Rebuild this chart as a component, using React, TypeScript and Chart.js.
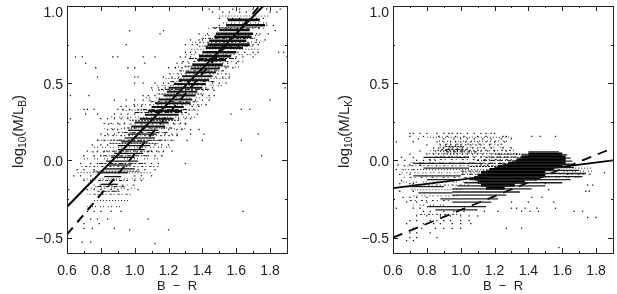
import React, { useEffect, useRef } from "react";
import { Chart, registerables } from "chart.js";

Chart.register(...registerables);

const xRange = [0.6, 1.9];
const yRange = [-0.6, 1.0];
const xMinorTicks = [0.7, 0.9, 1.1, 1.3, 1.5, 1.7, 1.9];
const yMinorTicks = [-0.25, 0.25, 0.75];

// Streaks of data: [y, xStart, xEnd]
const leftStreaks = [
  [0.91, 1.55, 1.74], [0.875, 1.54, 1.77], [0.845, 1.5, 1.68], [0.82, 1.48, 1.7], [0.8, 1.47, 1.69],
  [0.775, 1.44, 1.66], [0.75, 1.43, 1.68], [0.73, 1.42, 1.64], [0.7, 1.4, 1.6], [0.675, 1.38, 1.57],
  [0.65, 1.37, 1.54], [0.62, 1.34, 1.52], [0.595, 1.33, 1.5], [0.57, 1.3, 1.48], [0.545, 1.28, 1.46],
  [0.52, 1.26, 1.44], [0.495, 1.23, 1.42], [0.47, 1.2, 1.4], [0.445, 1.19, 1.37], [0.42, 1.17, 1.36],
  [0.395, 1.14, 1.34], [0.37, 1.12, 1.33], [0.345, 1.1, 1.29], [0.32, 1.08, 1.28], [0.295, 1.06, 1.26],
  [0.27, 1.03, 1.23], [0.245, 1.0, 1.2], [0.22, 0.98, 1.18], [0.195, 0.96, 1.14], [0.17, 0.96, 1.13],
  [0.145, 0.94, 1.12], [0.12, 0.92, 1.08], [0.095, 0.9, 1.09], [0.07, 0.9, 1.06], [0.045, 0.88, 1.05],
  [0.02, 0.86, 1.0], [-0.005, 0.83, 1.02], [-0.03, 0.84, 0.98], [-0.055, 0.82, 1.0], [-0.08, 0.78, 0.96],
  [-0.105, 0.82, 0.92], [-0.155, 0.8, 0.9],
];
const leftInner = [
  [0.86, 1.46, 1.74], [0.79, 1.4, 1.72], [0.74, 1.38, 1.7], [0.66, 1.32, 1.6], [0.61, 1.29, 1.56],
  [0.58, 1.26, 1.53], [0.51, 1.21, 1.48], [0.46, 1.15, 1.44], [0.43, 1.13, 1.41], [0.38, 1.08, 1.38],
  [0.33, 1.03, 1.33], [0.31, 1.0, 1.31], [0.26, 0.97, 1.27], [0.21, 0.93, 1.22], [0.18, 0.9, 1.2],
  [0.13, 0.87, 1.16], [0.11, 0.85, 1.14], [0.06, 0.83, 1.11], [0.03, 0.81, 1.08], [-0.02, 0.79, 1.05],
  [-0.07, 0.75, 1.03], [-0.13, 0.78, 0.96], [-0.17, 0.76, 0.94], [-0.2, 0.78, 0.92],
];
const leftFringe = [
  [0.935, 1.5, 1.8], [0.89, 1.5, 1.8], [0.855, 1.42, 1.78], [0.81, 1.38, 1.76], [0.765, 1.34, 1.76],
  [0.72, 1.32, 1.74], [0.685, 1.3, 1.72], [0.64, 1.27, 1.66], [0.605, 1.24, 1.62], [0.56, 1.2, 1.58],
  [0.53, 1.17, 1.56], [0.485, 1.12, 1.52], [0.455, 1.1, 1.48], [0.405, 1.05, 1.47], [0.36, 0.98, 1.44],
  [0.325, 0.92, 1.38], [0.28, 0.86, 1.36], [0.235, 0.84, 1.32], [0.205, 0.82, 1.3], [0.16, 0.8, 1.27],
  [0.13, 0.78, 1.24], [0.085, 0.75, 1.22], [0.055, 0.72, 1.2], [0.01, 0.7, 1.16], [-0.04, 0.68, 1.14],
  [-0.08, 0.66, 1.1], [-0.12, 0.68, 1.06], [-0.16, 0.74, 1.0], [-0.18, 0.72, 1.0], [-0.22, 0.72, 0.98],
  [-0.26, 0.76, 0.96], [-0.3, 0.72, 0.92],
];
const rightCore = [
  [0.04, 1.4, 1.6], [0.02, 1.36, 1.62], [0, 1.33, 1.62], [-0.02, 1.28, 1.62], [-0.04, 1.22, 1.6],
  [-0.06, 1.17, 1.55], [-0.08, 1.12, 1.5], [-0.1, 1.1, 1.5], [-0.12, 1.08, 1.45], [-0.14, 1.1, 1.38],
  [-0.16, 1.12, 1.32], [-0.18, 1.15, 1.26],
];
const rightStreaks = [
  [0.055, 1.4, 1.58], [0.035, 1.36, 1.63], [0.015, 1.33, 1.65], [-0.005, 1.3, 1.66], [-0.025, 1.25, 1.66],
  [-0.045, 1.2, 1.67], [-0.065, 1.15, 1.7], [-0.085, 1.12, 1.74], [-0.105, 1.08, 1.72], [-0.125, 1.05, 1.65],
  [-0.145, 1.02, 1.6], [-0.165, 0.98, 1.5], [-0.185, 0.95, 1.42], [-0.205, 0.95, 1.35], [-0.225, 0.95, 1.27],
  [-0.25, 0.88, 1.22], [-0.27, 0.95, 1.18], [-0.3, 0.8, 1.15], [-0.32, 0.85, 1.1], [0.02, 0.78, 1.05],
  [-0.02, 0.72, 1.1], [-0.05, 0.78, 1.05], [-0.1, 0.72, 1.0], [-0.125, 0.8, 1.0], [-0.17, 0.68, 0.9], [-0.21, 0.75, 0.95],
];
const rightInner = [
  [0.04, 1.2, 1.42], [0.02, 1.15, 1.38], [0, 1.1, 1.34], [-0.02, 1.1, 1.3], [-0.04, 1.05, 1.25],
  [-0.07, 1.0, 1.18], [-0.09, 1.0, 1.15], [0.07, 0.88, 1.04], [0.09, 0.9, 1.02], [0.055, 0.9, 1.1],
];
const rightFringe = [
  [0.15, 0.8, 1.3], [0.125, 0.85, 1.28], [0.105, 0.86, 1.26], [0.085, 0.84, 1.3], [0.065, 0.82, 1.32],
  [0.045, 0.8, 1.35], [0.025, 0.85, 1.38], [0.005, 0.8, 1.35], [-0.015, 0.7, 1.3], [-0.035, 0.66, 1.25],
  [-0.06, 0.66, 1.2], [-0.08, 0.64, 1.14], [-0.11, 0.66, 1.1], [-0.14, 0.64, 1.1], [-0.16, 0.7, 1.05],
  [-0.19, 0.7, 1.0], [-0.23, 0.72, 0.98], [-0.26, 0.7, 0.95], [-0.29, 0.72, 0.92], [-0.35, 0.74, 1.0],
  [-0.05, 1.6, 1.78], [-0.07, 1.6, 1.8], [-0.09, 1.6, 1.78], [-0.11, 1.5, 1.72],
];

// Individual dots: [y, x values on that row]
const leftDots: [number, number[]][] = [
  [0.98, [1.44, 1.5, 1.58, 1.62, 1.7, 1.78, 1.86]],
  [0.96, [1.46, 1.52, 1.56, 1.62, 1.66, 1.72, 1.8, 1.84]],
  [0.92, [1.5, 1.55, 1.58, 1.62, 1.72, 1.76]],
  [0.875, [1.5, 1.75, 1.78, 1.82]],
  [0.84, [0.97, 1.83, 1.17]],
  [0.82, [1.38, 1.43, 1.15, 1.72, 1.74, 1.79]],
  [0.78, [1.33, 1.38, 1.4, 1.72, 1.77]],
  [0.75, [0.95, 1.3, 1.34, 1.37, 1.7, 1.73]],
  [0.7, [1.3, 1.33, 1.36, 1.61, 1.65, 1.7, 1.73, 1.85, 1.88]],
  [0.67, [0.65, 0.69, 0.87, 0.9, 1.05, 1.12, 1.27, 1.3, 1.33, 1.55, 1.6, 1.64, 1.7, 1.9]],
  [0.63, [0.71, 1.06, 1.25, 1.28, 1.32, 1.52, 1.55, 1.6]],
  [0.6, [0.77, 0.96, 1.0, 1.2, 1.24, 1.28, 1.5, 1.54, 1.58]],
  [0.54, [0.78, 1.0, 1.02, 1.17, 1.22, 1.26, 1.48, 1.52, 1.56]],
  [0.5, [1.0, 1.05, 1.12, 1.17, 1.2, 1.24, 1.46, 1.5, 1.54, 1.88]],
  [0.47, [1.1, 1.14, 1.18, 1.42, 1.46, 1.89]],
  [0.42, [0.73, 0.62, 1.05, 1.08, 1.12, 1.4, 1.44, 1.47]],
  [0.39, [0.88, 0.95, 1.0, 1.05, 1.09, 1.36, 1.4, 1.44, 1.8]],
  [0.35, [0.92, 0.95, 1.0, 1.04, 1.34, 1.38]],
  [0.33, [0.7, 0.72, 0.76, 0.9, 0.93, 0.97, 1.02, 1.3, 1.35, 1.68, 1.63]],
  [0.3, [0.71, 0.78, 0.88, 0.92, 0.96, 1.0, 1.28, 1.32, 1.37, 1.57]],
  [0.27, [0.62, 0.8, 0.84, 0.88, 0.92, 0.96, 1.26, 1.3, 1.33]],
  [0.24, [0.82, 0.86, 0.9, 0.94, 1.23, 1.27, 1.3]],
  [0.2, [0.84, 0.87, 0.9, 1.2, 1.25, 1.28, 1.33, 1.38]],
  [0.17, [0.8, 0.84, 0.88, 1.18, 1.22, 1.25, 1.33, 1.41, 1.73]],
  [0.13, [0.78, 0.82, 0.86, 1.15, 1.18, 1.22, 1.31, 1.4, 1.63]],
  [0.1, [0.75, 0.8, 0.84, 1.12, 1.16, 1.2]],
  [0.06, [0.72, 0.78, 0.82, 1.1, 1.13, 1.17, 1.22]],
  [0.03, [0.7, 0.76, 0.8, 1.08, 1.12, 1.16, 1.75]],
  [-0.02, [0.68, 0.74, 0.78, 1.06, 1.1, 1.14, 1.3]],
  [-0.06, [0.66, 0.7, 0.76, 1.02, 1.06, 1.12]],
  [-0.1, [0.64, 0.68, 0.74, 1.0, 1.04, 1.1]],
  [-0.13, [0.7, 0.74, 1.0, 1.04]],
  [-0.19, [0.61, 0.72, 0.76, 0.8, 0.86, 0.9, 0.96, 1.02]],
  [-0.33, [0.72, 0.76, 0.8, 0.86, 0.92, 1.64]],
  [-0.38, [0.74, 0.78, 0.84, 1.08]],
  [-0.41, [0.7, 0.79]],
  [-0.44, [0.75, 0.7, 0.88]],
  [-0.45, [0.97, 1.2]],
  [-0.53, [0.69, 0.74]],
  [-0.54, [1.12]],
];
const rightDots: [number, number[]][] = [
  [0.175, [0.7, 0.72, 0.76, 0.8, 0.86, 0.9, 0.93, 0.95, 0.98, 1.0, 1.04, 1.08, 1.12, 1.15, 1.18, 1.2]],
  [0.155, [0.7, 0.78, 0.87, 0.92, 0.97, 1.02, 1.1, 1.15, 1.25, 1.27, 1.42, 1.47, 1.56]],
  [0.14, [0.75, 0.9, 0.96, 1.0, 1.04, 1.08, 1.13, 1.18, 1.24, 1.3]],
  [0.12, [0.62, 0.72, 0.86, 0.9, 0.94, 0.97, 1.0, 1.03, 1.06, 1.1, 1.15, 1.2, 1.26]],
  [0.1, [0.8, 0.88, 0.91, 0.94, 0.97, 1.0, 1.03, 1.06, 1.09, 1.12, 1.17, 1.22]],
  [0.08, [0.84, 0.87, 0.9, 0.93, 0.95, 0.98, 1.01, 1.04, 1.07, 1.1, 1.14, 1.18, 1.25, 1.3]],
  [0.06, [0.76, 0.85, 0.88, 0.9, 0.92, 0.94, 0.96, 0.98, 1.0, 1.02, 1.05, 1.08, 1.12, 1.16, 1.2, 1.27]],
  [0.04, [0.7, 0.8, 0.84, 0.87, 0.9, 0.92, 0.94, 0.96, 0.98, 1.01, 1.04, 1.07, 1.1, 1.13, 1.18, 1.23, 1.28, 1.33]],
  [0.02, [0.65, 0.72, 1.08, 1.12, 1.15, 1.18, 1.22, 1.26, 1.3]],
  [0, [0.6, 0.67, 0.74, 0.78, 0.82, 0.85, 1.1, 1.14, 1.18, 1.22]],
  [-0.03, [0.63, 0.7, 0.76, 1.12, 1.16]],
  [-0.06, [0.62, 0.66, 0.72]],
  [-0.08, [1.85]],
  [-0.09, [0.64, 0.7]],
  [-0.13, [0.6, 0.65]],
  [-0.15, [0.64, 0.7, 0.72, 1.5]],
  [-0.16, [1.75, 1.78]],
  [-0.19, [1.52]],
  [-0.2, [0.64, 0.72, 1.74, 1.76]],
  [-0.24, [0.66, 0.7, 0.74, 0.8, 1.42, 1.48]],
  [-0.27, [0.68, 0.74, 0.8, 1.3, 1.4, 1.55]],
  [-0.31, [0.62, 0.72, 0.76, 1.3, 1.33, 1.38, 1.45, 1.56]],
  [-0.33, [0.78, 0.82, 0.9, 0.96, 1.02, 1.14, 1.22, 1.36, 1.41, 1.46, 1.67, 1.72]],
  [-0.36, [0.74, 0.8, 0.88, 0.94, 1.0, 1.05, 1.1]],
  [-0.37, [1.75, 1.8]],
  [-0.39, [0.7, 0.74, 0.82, 0.86, 0.9, 0.94, 1.0, 1.05]],
  [-0.41, [0.68, 0.78, 0.84, 0.88, 0.95, 1.0, 1.06]],
  [-0.44, [0.72, 0.77, 0.85, 0.9, 0.95, 1.0, 1.27, 1.36]],
  [-0.47, [0.7, 0.74, 0.82]],
  [-0.5, [0.7, 0.74, 0.86]],
  [-0.52, [0.68, 0.72]],
  [-0.565, [1.58]],
];

const leftSolidX = [0.6, 1.76];
const leftSolidY = [-0.3, 1.0];
const leftDashedX = [0.6, 1.76];
const leftDashedY = [-0.48, 1.03];
const rightSolidX = [0.6, 1.9];
const rightSolidY = [-0.18, 0.0];
const rightDashedX = [0.6, 1.9];
const rightDashedY = [-0.5, 0.08];

const FONT = "'Liberation Sans', Arial, sans-serif";

const SPARSE_DASHES = [[1, 2], [1, 4, 1, 2], [2, 3, 1, 5], [1, 2, 1, 6], [1, 3, 2, 2]];
const DENSE_DASHES = [[2, 1], [3, 1, 1, 2], [4, 2, 1, 1], [2, 2, 5, 1]];

function streakSets(rows: number[][], width: number | ((y: number) => number), color: string, dashes: number[][] = [[]]) {
  return rows.map(([y, a, b], i) => ({
    type: "line" as const,
    data: [{ x: a, y }, { x: b, y }],
    borderColor: color,
    borderWidth: typeof width === "function" ? width(y) : width,
    borderDash: dashes[i % dashes.length],
    borderDashOffset: i * 1.3,
    pointRadius: 0,
    fill: false,
  }));
}

function lineSet(xs: number[], ys: number[], dash: number[], width: number) {
  return {
    type: "line" as const,
    data: xs.map((x, i) => ({ x, y: ys[i] })),
    borderColor: "#000",
    borderWidth: width,
    borderDash: dash,
    pointRadius: 0,
    fill: false,
  };
}

function dotSet(rows: [number, number[]][]) {
  return {
    type: "scatter" as const,
    data: rows.flatMap(([y, xs]) => xs.map((x) => ({ x, y }))),
    backgroundColor: "#111",
    borderWidth: 0,
    pointStyle: "rect",
    pointRadius: 0.9,
  };
}

const framePlugin = {
  id: "frame",
  afterDraw(chart: any) {
    const { ctx, chartArea: a, scales } = chart;
    const opts = chart.options.plugins.frame;
    ctx.save();
    ctx.strokeStyle = "#222";
    ctx.lineWidth = 1;
    ctx.strokeRect(a.left + 0.5, a.top + 0.5, a.right - a.left, a.bottom - a.top);
    const vTick = (v: number, len: number) => {
      const x = Math.round(scales.x.getPixelForValue(v)) + 0.5;
      ctx.moveTo(x, a.top);
      ctx.lineTo(x, a.top + len);
      ctx.moveTo(x, a.bottom);
      ctx.lineTo(x, a.bottom - len);
    };
    const hTick = (v: number, len: number) => {
      const y = Math.round(scales.y.getPixelForValue(v)) + 0.5;
      ctx.moveTo(a.left, y);
      ctx.lineTo(a.left + len, y);
      ctx.moveTo(a.right, y);
      ctx.lineTo(a.right - len, y);
    };
    ctx.beginPath();
    scales.x.ticks.forEach((t: any) => vTick(t.value, 5));
    scales.y.ticks.forEach((t: any) => hTick(t.value, 5));
    xMinorTicks.forEach((v) => vTick(v, 2));
    yMinorTicks.forEach((v) => hTick(v, 2));
    ctx.stroke();

    // y axis title with a subscripted part
    ctx.translate(opts.titleX, (a.top + a.bottom) / 2 + 2);
    ctx.rotate(-Math.PI / 2);
    ctx.fillStyle = "#222";
    ctx.textBaseline = "alphabetic";
    const parts: [string, number, number][] = [
      ["log", 15, 0],
      ["10", 10, 3],
      ["(M/L", 15, 0],
      [opts.sub, 10, 3],
      [")", 15, 0],
    ];
    let w = 0;
    parts.forEach(([t, s]) => {
      ctx.font = `${s}px ${FONT}`;
      w += ctx.measureText(t).width;
    });
    let p = -w / 2;
    parts.forEach(([t, s, d]) => {
      ctx.font = `${s}px ${FONT}`;
      ctx.fillText(t, p, 5 + d);
      p += ctx.measureText(t).width;
    });
    ctx.restore();
  },
};

function makeChart(canvas: HTMLCanvasElement, datasets: any[], sub: string) {
  return new Chart(canvas, {
    type: "scatter",
    data: { datasets },
    plugins: [framePlugin],
    options: {
      animation: false,
      responsive: false,
      layout: { padding: { top: 6, right: 3, left: 0, bottom: 0 } },
      plugins: {
        legend: { display: false },
        tooltip: { enabled: false },
        frame: { sub, titleX: 18 },
      } as any,
      scales: {
        x: {
          type: "linear",
          min: xRange[0],
          max: xRange[1],
          grid: { display: false, drawTicks: false },
          border: { display: false },
          afterFit: (s: any) => {
            s.height = 41;
            s.paddingLeft = 0;
            s.paddingRight = 0;
          },
          title: {
            display: true,
            text: "B  −  R",
            color: "#222",
            font: { family: FONT, size: 13 },
            padding: { top: 0, bottom: 0 },
          },
          ticks: {
            stepSize: 0.2,
            includeBounds: false,
            autoSkip: false,
            maxRotation: 0,
            padding: 10,
            color: "#222",
            font: { family: FONT, size: 14 },
            callback: (v: any) => Number(v).toFixed(1),
          },
        },
        y: {
          type: "linear",
          min: yRange[0],
          max: yRange[1],
          grid: { display: false, drawTicks: false },
          border: { display: false },
          afterFit: (s: any) => {
            s.width = 67;
            s.paddingTop = 0;
            s.paddingBottom = 0;
          },
          ticks: {
            stepSize: 0.5,
            includeBounds: false,
            autoSkip: false,
            padding: 4,
            labelOffset: 2,
            color: "#222",
            font: { family: FONT, size: 14, lineHeight: 0.72 },
            callback: (v: any) => {
              const label = Number(v).toFixed(1).replace("-", "−");
              return Number(v) === 1 ? ["", label] : label;
            },
          },
        },
      },
    } as any,
  });
}

export default function App() {
  const leftRef = useRef<HTMLCanvasElement>(null);
  const rightRef = useRef<HTMLCanvasElement>(null);

  useEffect(() => {
    document.body.style.margin = "0";
    document.body.style.background = "#fff";
    const left = makeChart(
      leftRef.current!,
      [
        dotSet(leftDots),
        ...streakSets(leftFringe, 1, "#222", SPARSE_DASHES),
        ...streakSets(leftInner, 1, "#111", DENSE_DASHES),
        ...streakSets(leftStreaks, (y) => (y > 0.6 ? 2.6 : y > 0.2 ? 2 : 1.3), "#111"),
        lineSet(leftSolidX, leftSolidY, [], 2),
        lineSet(leftDashedX, leftDashedY, [9, 7], 2),
      ],
      "B"
    );
    const right = makeChart(
      rightRef.current!,
      [
        dotSet(rightDots),
        ...streakSets(rightFringe, 1, "#222", SPARSE_DASHES),
        ...streakSets(rightInner, 1, "#111", DENSE_DASHES),
        ...streakSets(rightStreaks, 1.3, "#222"),
        ...streakSets(rightCore, 3.4, "#000"),
        lineSet(rightSolidX, rightSolidY, [], 1.6),
        lineSet(rightDashedX, rightDashedY, [10, 7], 1.8),
      ],
      "K"
    );
    return () => {
      left.destroy();
      right.destroy();
    };
  }, []);

  return (
    <div style={{ position: "relative", width: 617, height: 294, overflow: "hidden", background: "#fff" }}>
      <canvas ref={leftRef} width={291} height={294} style={{ position: "absolute", left: 0, top: 0 }} />
      <canvas ref={rightRef} width={291} height={294} style={{ position: "absolute", left: 326, top: 0 }} />
    </div>
  );
}
